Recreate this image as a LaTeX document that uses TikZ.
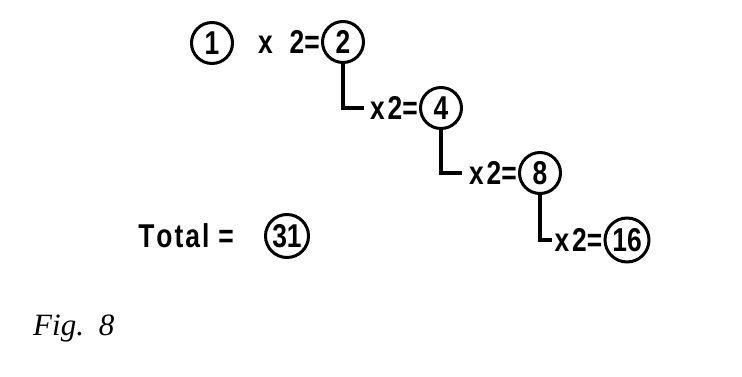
\documentclass[tikz,border=0pt]{standalone}
\usepackage{fontspec}
\newfontfamily\cf[FakeStretch=0.8]{Liberation Sans Bold}
\newfontfamily\figf{Liberation Serif Italic}
\begin{document}
\begin{tikzpicture}[x=1pt,y=-1pt,
  num/.style={circle,draw,line width=3pt,minimum size=41pt,inner sep=0pt,font=\cf\fontsize{33}{33}\selectfont},
  lab/.style={inner sep=0pt,font=\cf\fontsize{33}{33}\selectfont},
  conn/.style={line width=3.8pt}]
\useasboundingbox[fill=white] (0,0) rectangle (742,377);
\node[num] (c1) at (212,43) {1};
\node[num] (c2) at (343,42) {2};
\node[num] (c4) at (441,108) {4};
\node[num] (c8) at (540,173) {8};
\node[num,minimum size=44pt] (c16) at (627,240) {16};
\node[num,minimum size=43pt] (c31) at (287,236) {31};
\node[lab,anchor=east] (t2) at ([xshift=-1pt]c2.west) {x\hspace{17pt}2=};
\node[lab,anchor=east] (t4) at ([xshift=-1pt]c4.west) {x\hspace{3pt}2=};
\node[lab,anchor=east] (t8) at ([xshift=-1pt]c8.west) {x\hspace{3pt}2=};
\node[lab,anchor=east] (t16) at ([xshift=-1pt]c16.west) {x\hspace{3pt}2=};
\coordinate (e4) at ([xshift=-6pt]t4.west);
\coordinate (e8) at ([xshift=-7pt]t8.west);
\coordinate (e16) at ([xshift=-2pt]t16.west);
\draw[conn] (c2.south) |- (e4);
\draw[conn] (c4.south) |- (e8);
\draw[conn] (c8.south) |- (e16);
\node[lab,anchor=east] (tot) at ([xshift=-30pt]c31.west) {T\kern2pt o\kern2pt t\kern2pt a\kern2pt l\kern9pt =};
\node[anchor=base west,inner sep=0pt,font=\figf\fontsize{31}{31}\selectfont] (fig) at (33,335) {Fig.\hspace{15pt}8};
\end{tikzpicture}
\end{document}
